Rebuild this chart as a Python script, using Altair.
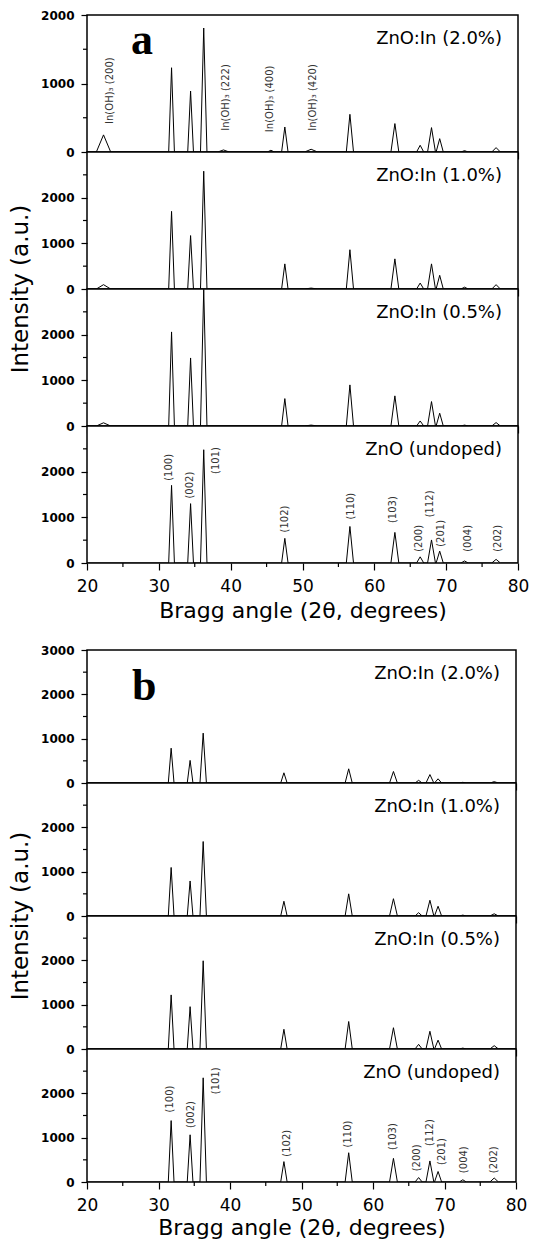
import altair as alt
import pandas as pd

# ---------------- data ----------------
zno_pos = [31.77, 34.42, 36.25, 47.54, 56.60, 62.86, 66.38, 67.96, 69.10, 72.56, 76.95]
zno_hw = [0.40, 0.40, 0.45, 0.45, 0.50, 0.55, 0.50, 0.55, 0.50, 0.50, 0.60]
zno_hkl = ["(100)", "(002)", "(101)", "(102)", "(110)", "(103)", "(200)", "(112)", "(201)", "(004)", "(202)"]
inoh_pos = [22.3, 39.0, 45.6, 51.2]
inoh_hw = [1.0, 0.8, 0.5, 0.9]
inoh_hkl = ["In(OH)\u2083 (200)", "In(OH)\u2083 (222)", "In(OH)\u2083 (400)", "In(OH)\u2083 (420)"]

samples = ["ZnO:In (2.0%)", "ZnO:In (1.0%)", "ZnO:In (0.5%)", "ZnO (undoped)"]

# figure a: peak intensities (ZnO reflections, In(OH)3 reflections)
a_20_zno = [1230, 890, 1810, 365, 550, 415, 98, 356, 195, 20, 64]
a_20_inoh = [250, 30, 25, 40]
a_10_zno = [1700, 1170, 2580, 550, 860, 660, 130, 550, 300, 40, 95]
a_10_inoh = [95, 0, 0, 20]
a_05_zno = [2060, 1490, 2990, 600, 900, 660, 110, 535, 280, 20, 75]
a_05_inoh = [70, 0, 0, 20]
a_00_zno = [1700, 1300, 2480, 540, 800, 670, 135, 505, 260, 45, 80]
a_00_inoh = [0, 0, 0, 0]

# figure b
b_20_zno = [785, 510, 1125, 230, 320, 260, 60, 190, 95, 15, 30]
b_10_zno = [1095, 790, 1680, 333, 500, 390, 75, 355, 220, 20, 50]
b_05_zno = [1220, 955, 1990, 445, 620, 480, 105, 400, 200, 20, 75]
b_00_zno = [1385, 1065, 2350, 460, 660, 533, 100, 475, 237, 50, 90]
b_inoh = [0, 0, 0, 0]

# peak label positions (undoped panels)
a_lab_x = [31.44, 34.38, 37.90, 47.51, 56.72, 62.64, 66.15, 67.74, 69.34, 72.99, 77.22]
a_lab_y = [1800, 1410, 1950, 670, 950, 875, 245, 1000, 355, 245, 245]
b_lab_x = [31.57, 34.60, 38.10, 47.97, 56.50, 62.80, 66.10, 67.96, 69.70, 72.70, 76.90]
b_lab_y = [1570, 1220, 1980, 570, 780, 720, 240, 810, 385, 200, 200]
inoh_lab_x = [23.2, 39.4, 45.45, 51.5]
inoh_lab_y = [410, 310, 290, 310]

# axis ticks
x_major = [20, 30, 40, 50, 60, 70, 80]
x_minor = [25, 35, 45, 55, 65, 75]
y_major = [0, 1000, 2000, 3000]
y_minor = [500, 1500, 2500]

X_TITLE = "Bragg angle (2\u03b8, degrees)"
Y_TITLE = "Intensity (a.u.)"
FONT = "DejaVu Sans"


def pattern(zno_h, inoh_h):
    peaks = sorted(zip(zno_pos + inoh_pos, zno_hw + inoh_hw, zno_h + inoh_h))
    xs, ys = [20.0], [0.0]
    for p, w, h in peaks:
        if h <= 0:
            continue
        xs += [p - w, p, p + w]
        ys += [0.0, h, 0.0]
    xs.append(80.0)
    ys.append(0.0)
    return pd.DataFrame({"angle": xs, "intensity": ys})


def panel(sample, zno_h, inoh_h, width, height, ymax, ylab_top, bottom, ytitle,
          labels=None, letter=None, letter_xy=(44, 39), title_pad=6):
    df = pattern(zno_h, inoh_h)
    yvals = [v for v in y_major if v < ymax or (ylab_top and v == ymax)]
    if bottom:
        xaxis = alt.Axis(values=x_major, tickSize=7, labelPadding=8, labelFontSize=17,
                         labelFlush=False, labelOverlap=False, title=X_TITLE,
                         titleFontSize=22, titleFontWeight="normal", titlePadding=title_pad)
    else:
        xaxis = alt.Axis(values=x_major, tickSize=7, labels=False, title=None)
    yaxis = alt.Axis(values=yvals, format="d", tickSize=6, labelPadding=7, labelFontSize=12,
                     labelFontWeight="bold", labelFlush=False, labelOverlap=False, title=None)

    x = alt.X("angle:Q", scale=alt.Scale(domain=[20, 80], nice=False, zero=False), axis=xaxis)
    y = alt.Y("intensity:Q", scale=alt.Scale(domain=[0, ymax], nice=False), axis=yaxis)

    layers = []
    line = alt.Chart(df).mark_line(color="black", strokeWidth=1, clip=True).encode(x=x, y=y)
    layers.append(line)

    xm = alt.Chart(pd.DataFrame({"angle": x_minor})).mark_rule(
        color="black", strokeWidth=1.2
    ).encode(x=x, y=alt.value(height), y2=alt.value(height + 4))
    layers.append(xm)
    ym = alt.Chart(pd.DataFrame({"intensity": [v for v in y_minor if v < ymax]})).mark_rule(
        color="black", strokeWidth=1.2
    ).encode(y=y, x=alt.value(-4), x2=alt.value(0))
    layers.append(ym)

    name = alt.Chart(pd.DataFrame({"t": [sample]})).mark_text(
        align="right", baseline="middle", fontSize=18, font=FONT, color="black"
    ).encode(x=alt.value(width - 16), y=alt.value(24), text="t:N")
    layers.append(name)
    if labels is not None:
        lab = alt.Chart(labels).mark_text(
            angle=270, align="left", baseline="middle", fontSize=10, font=FONT, color="#333333"
        ).encode(x=x, y=y, text="label:N")
        layers.append(lab)
    if letter is not None:
        let = alt.Chart(pd.DataFrame({"t": [letter]})).mark_text(
            align="left", baseline="alphabetic", fontSize=44, font="Liberation Serif",
            fontWeight="bold", color="black"
        ).encode(x=alt.value(letter_xy[0]), y=alt.value(letter_xy[1]), text="t:N")
        layers.append(let)
    if ytitle:
        yt = alt.Chart(pd.DataFrame({"t": [Y_TITLE]})).mark_text(
            angle=270, align="center", baseline="middle", fontSize=23, font=FONT, color="black"
        ).encode(x=alt.value(-66), y=alt.value(height), text="t:N")
        layers.append(yt)
    return alt.layer(*layers).properties(width=width, height=height)


a_labels = pd.DataFrame({"angle": a_lab_x, "intensity": a_lab_y, "label": zno_hkl})
b_labels = pd.DataFrame({"angle": b_lab_x, "intensity": b_lab_y, "label": zno_hkl})
inoh_labels = pd.DataFrame({"angle": inoh_lab_x, "intensity": inoh_lab_y, "label": inoh_hkl})

WA, HA = 431, 137
WB, HB = 429, 133

fig_a = alt.vconcat(
    panel(samples[0], a_20_zno, a_20_inoh, WA, HA, 2000, True, False, False,
          labels=inoh_labels, letter="a", letter_xy=(44, 39)),
    panel(samples[1], a_10_zno, a_10_inoh, WA, HA, 3000, False, False, True),
    panel(samples[2], a_05_zno, a_05_inoh, WA, HA, 3000, False, False, False),
    panel(samples[3], a_00_zno, a_00_inoh, WA, HA, 3000, False, True, False, labels=a_labels),
    spacing=0, bounds="flush",
)

fig_b = alt.vconcat(
    panel(samples[0], b_20_zno, b_inoh, WB, HB, 3000, True, False, False,
          letter="b", letter_xy=(45, 50)),
    panel(samples[1], b_10_zno, b_inoh, WB, HB, 3000, False, False, True),
    panel(samples[2], b_05_zno, b_inoh, WB, HB, 3000, False, False, False),
    panel(samples[3], b_00_zno, b_inoh, WB, HB, 3000, False, True, False, labels=b_labels,
          title_pad=4),
    spacing=0, bounds="flush",
)

chart = alt.vconcat(fig_a, fig_b, spacing=21).properties(
    padding={"left": 1, "top": 0, "right": 0, "bottom": 0},
    background="white",
).configure_view(
    stroke="black", strokeWidth=1.5, fill="white"
).configure_axis(
    domain=False, grid=False, tickColor="black", tickWidth=1.2,
    labelColor="black", titleColor="black", labelFont=FONT, titleFont=FONT,
)

chart.save("out.html", embed_options={"renderer": "svg", "actions": False})
